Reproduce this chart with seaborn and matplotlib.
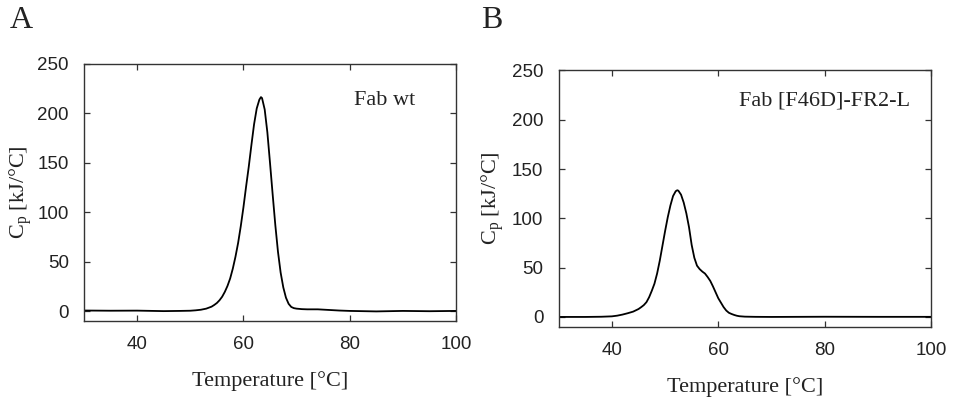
import matplotlib
matplotlib.use("Agg")
import matplotlib.pyplot as plt
import seaborn as sns
import pandas as pd

# ---- data ----
temp_wt = [30, 35, 40, 42, 45, 48, 50, 51, 52, 53, 54, 54.5, 55, 55.5, 56, 56.5, 57, 57.5,
           58, 58.5, 59, 59.5, 60, 60.5, 61, 61.5, 62, 62.5, 63, 63.3, 63.5, 64, 64.5, 65,
           65.5, 66, 66.5, 67, 67.5, 68, 68.5, 69, 69.5, 70, 71, 72, 74, 76, 78, 80, 85,
           90, 95, 100]
cp_wt = [0.6, 0.4, 0.5, 0.3, 0.0, 0.2, 0.4, 0.8, 1.4, 2.5, 4.5, 6.2, 8.2, 11, 14.6, 19.5,
         25.5, 33, 43, 55, 69, 86, 105, 126, 146, 168, 189, 205, 214, 216.5, 215.5, 204,
         181, 150, 118, 87, 60, 39, 24, 13.6, 7.4, 4.2, 3.0, 2.5, 2.0, 1.8, 1.8, 1.2, 0.6,
         0.2, -0.3, 0.2, -0.1, 0.2]

temp_mut = [30, 35, 38, 40, 41, 42, 43, 44, 45, 45.5, 46, 46.5, 47, 47.5, 48, 48.5, 49,
            49.5, 50, 50.5, 51, 51.5, 52, 52.3, 52.5, 53, 53.5, 54, 54.5, 55, 55.5, 56,
            56.5, 57, 57.5, 58, 58.5, 59, 59.5, 60, 60.5, 61, 61.5, 62, 62.5, 63, 63.5,
            64, 65, 67, 70, 80, 90, 100]
cp_mut = [0.0, 0.0, 0.2, 0.6, 1.3, 2.4, 3.8, 5.4, 8, 9.9, 12, 15, 20, 26.5, 33.7, 44, 57,
          72, 87, 101, 113, 122.6, 127.5, 128.5, 128, 124, 116, 105, 91, 73, 60, 52, 48.5,
          46, 44, 40.5, 36.5, 31, 25, 19, 14.5, 10, 6.5, 4.2, 3.0, 2.0, 1.2, 0.7, 0.3, 0.1,
          0.0, 0.2, 0.1, 0.1]

panel_letters = ["A", "B"]
sample_names = ["Fab wt", "Fab [F46D]-FR2-L"]
x_ticks = [40, 60, 80, 100]
y_ticks = [0, 50, 100, 150, 200, 250]

sns.set_theme(style="ticks")
plt.rcParams["font.family"] = ["Liberation Sans", "DejaVu Sans"]
plt.rcParams["mathtext.fontset"] = "custom"
plt.rcParams["mathtext.rm"] = "Liberation Serif"
plt.rcParams["mathtext.it"] = "Liberation Serif:italic"

fig = plt.figure(figsize=(9.59, 4.0), dpi=100)
rects = [[0.0876, 0.1975, 0.3879, 0.6425], [0.5826, 0.183, 0.3882, 0.641]]
datasets = [(temp_wt, cp_wt), (temp_mut, cp_mut)]
text_pos = [(0.89, 0.84), (0.944, 0.865)]
letter_pos = [(0.010, 0.929), (0.502, 0.929)]
ylabel_pads = [2, 4]

spine_col = "#333333"
serif = ["Liberation Serif", "DejaVu Serif"]

for i in range(2):
    ax = fig.add_axes(rects[i])
    df = pd.DataFrame({"T": datasets[i][0], "Cp": datasets[i][1]})
    sns.lineplot(data=df, x="T", y="Cp", ax=ax, color="black", linewidth=1.3,
                 estimator=None, sort=False)
    ax.set_xlim(30, 100)
    ax.set_ylim(-10, 250)
    ax.set_xticks(x_ticks)
    ax.set_yticks(y_ticks)
    ax.tick_params(direction="in", length=4, width=0.9, top=True, right=True,
                   labelsize=13.5, colors=spine_col, labelcolor="#222222")
    ax.tick_params(axis="y", pad=11)
    ax.tick_params(axis="x", pad=11)
    for s in ax.spines.values():
        s.set_visible(True)
        s.set_color(spine_col)
        s.set_linewidth(1.0)
    ax.set_xlabel("Temperature [°C]", family=serif, fontsize=16, color="#222222",
                  labelpad=13)
    ax.set_ylabel(r"C$_\mathrm{p}$ [kJ/°C]", family=serif, fontsize=16, color="#222222",
                  labelpad=ylabel_pads[i])
    ax.text(text_pos[i][0], text_pos[i][1], sample_names[i], transform=ax.transAxes,
            ha="right", va="baseline", family=serif, fontsize=16, color="#222222")
    fig.text(letter_pos[i][0], letter_pos[i][1], panel_letters[i], family=serif,
             fontsize=23, color="#222222", ha="left", va="baseline")

fig.savefig("out.png", dpi=100)
